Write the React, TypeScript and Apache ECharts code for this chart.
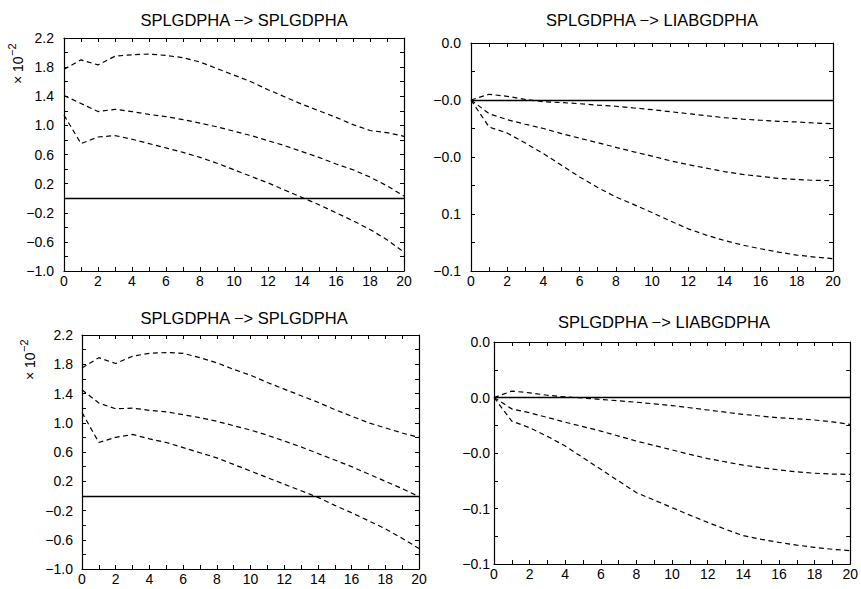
import React, { useEffect, useRef } from "react";
import * as echarts from "echarts";

// Horizon (x axis)
const steps = [0, 1, 2, 3, 4, 5, 6, 7, 8, 9, 10, 11, 12, 13, 14, 15, 16, 17, 18, 19, 20];

// Panel titles
const titles = [
  "SPLGDPHA −> SPLGDPHA",
  "SPLGDPHA −> LIABGDPHA",
  "SPLGDPHA −> SPLGDPHA",
  "SPLGDPHA −> LIABGDPHA",
];

// Top-left panel (×10^-2)
const tlUpper = [1.77, 1.9, 1.83, 1.95, 1.97, 1.98, 1.96, 1.93, 1.87, 1.78, 1.69, 1.6, 1.49, 1.39, 1.29, 1.2, 1.11, 1.01, 0.93, 0.9, 0.85];
const tlMiddle = [1.41, 1.3, 1.19, 1.22, 1.19, 1.15, 1.12, 1.08, 1.03, 0.98, 0.92, 0.86, 0.79, 0.72, 0.64, 0.56, 0.47, 0.39, 0.29, 0.17, 0.03];
const tlLower = [1.14, 0.75, 0.84, 0.86, 0.81, 0.75, 0.69, 0.63, 0.56, 0.48, 0.39, 0.3, 0.21, 0.11, 0.01, -0.09, -0.2, -0.31, -0.43, -0.57, -0.74];

// Top-right panel
const trUpper = [0, 0.002, 0.0013, 0.0002, -0.0006, -0.0009, -0.0013, -0.0018, -0.0022, -0.0028, -0.0034, -0.0041, -0.0048, -0.0055, -0.0062, -0.0067, -0.0071, -0.0075, -0.0077, -0.0081, -0.0083];
const trMiddle = [0, -0.0048, -0.0069, -0.0085, -0.01, -0.0118, -0.0134, -0.015, -0.0166, -0.0182, -0.0197, -0.0213, -0.0227, -0.0239, -0.0251, -0.0261, -0.0268, -0.0275, -0.0279, -0.0282, -0.0283];
const trLower = [0, -0.0095, -0.0116, -0.0151, -0.0188, -0.0229, -0.027, -0.0307, -0.034, -0.0367, -0.0395, -0.0424, -0.0452, -0.0474, -0.0493, -0.0509, -0.0522, -0.0534, -0.0544, -0.0551, -0.0557];

// Bottom-left panel (×10^-2)
const blUpper = [1.75, 1.89, 1.81, 1.91, 1.95, 1.96, 1.95, 1.89, 1.82, 1.73, 1.65, 1.55, 1.46, 1.37, 1.28, 1.18, 1.09, 1.0, 0.93, 0.86, 0.8];
const blMiddle = [1.45, 1.27, 1.19, 1.2, 1.17, 1.15, 1.11, 1.07, 1.02, 0.96, 0.9, 0.83, 0.75, 0.67, 0.58, 0.49, 0.4, 0.3, 0.2, 0.1, -0.01];
const blLower = [1.14, 0.73, 0.8, 0.84, 0.78, 0.73, 0.66, 0.59, 0.52, 0.43, 0.34, 0.25, 0.16, 0.07, -0.02, -0.13, -0.23, -0.34, -0.45, -0.58, -0.72];

// Bottom-right panel
const brUpper = [0, 0.0023, 0.0017, 0.0008, 0.0002, -0.0002, -0.0007, -0.0012, -0.0017, -0.0023, -0.0029, -0.0037, -0.0045, -0.0053, -0.0061, -0.0067, -0.0073, -0.0077, -0.0081, -0.0088, -0.0097];
const brMiddle = [0, -0.0041, -0.0055, -0.0072, -0.0089, -0.0105, -0.0121, -0.0139, -0.0157, -0.0173, -0.0189, -0.0205, -0.022, -0.0232, -0.0244, -0.0253, -0.0261, -0.0268, -0.0273, -0.0276, -0.0277];
const brLower = [0, -0.0085, -0.0109, -0.014, -0.0175, -0.0217, -0.0259, -0.0301, -0.0343, -0.037, -0.0397, -0.0424, -0.045, -0.0475, -0.0498, -0.0511, -0.0522, -0.0532, -0.054, -0.0547, -0.0552];

// Tick labels printed on the right-hand panels (bottom to top)
const trYLabels = ["−0.1", "0.1", "−0.0", "−0.0", "0.0"];
const brYLabels = ["−0.1", "−0.1", "−0.0", "0.0", "0.0"];

const FONT = "'Liberation Sans', Arial, Helvetica, sans-serif";

export default function App() {
  const ref = useRef<HTMLDivElement>(null);

  useEffect(() => {
    if (!ref.current) return;
    const chart = echarts.init(ref.current, null, { renderer: "svg" });

    const panels = [
      { rect: { left: 64, top: 38, width: 340, height: 233 }, min: -1.0, max: 2.2, interval: 0.4, labels: null as string[] | null, margin: 10, series: [tlUpper, tlMiddle, tlLower] },
      { rect: { left: 471, top: 43, width: 362, height: 228 }, min: -0.06, max: 0.02, interval: 0.02, labels: trYLabels, margin: 10, series: [trUpper, trMiddle, trLower] },
      { rect: { left: 82, top: 335, width: 337, height: 234 }, min: -1.0, max: 2.2, interval: 0.4, labels: null, margin: 9, series: [blUpper, blMiddle, blLower] },
      { rect: { left: 494, top: 342, width: 363, height: 222 }, min: -0.06, max: 0.02, interval: 0.02, labels: brYLabels, margin: 4, series: [brUpper, brMiddle, brLower] },
    ];

    const axisLine = { show: true, onZero: false, lineStyle: { color: "#000", width: 1.2 } };
    const tick = { show: true, inside: true, length: 4, lineStyle: { color: "#000", width: 1 } };
    const labelStyle = { color: "#000", fontSize: 14, fontFamily: FONT };

    const grid: any[] = [];
    const xAxis: any[] = [];
    const yAxis: any[] = [];
    const series: any[] = [];

    panels.forEach((p, gi) => {
      grid.push({ ...p.rect, containLabel: false });
      xAxis.push({
        type: "value", gridIndex: gi, position: "bottom", min: 0, max: 20, interval: 1,
        axisLine, axisTick: tick, splitLine: { show: false },
        axisLabel: { ...labelStyle, margin: 3, formatter: (v: number) => (Math.round(v) % 2 === 0 ? String(Math.round(v)) : "") },
      });
      xAxis.push({
        type: "value", gridIndex: gi, position: "top", min: 0, max: 20, interval: 1,
        axisLine, axisTick: tick, splitLine: { show: false }, axisLabel: { show: false },
      });
      const fmt = (v: number) => {
        if (p.labels) {
          const idx = Math.round((v - p.min) / p.interval);
          return p.labels[idx] ?? "";
        }
        return v.toFixed(1).replace("-", "−");
      };
      yAxis.push({
        type: "value", gridIndex: gi, position: "left", min: p.min, max: p.max, interval: p.interval,
        axisLine, axisTick: tick, splitLine: { show: false },
        minorTick: { show: true, splitNumber: 2, length: 4, lineStyle: { color: "#000", width: 1 } },
        minorSplitLine: { show: false },
        axisLabel: { ...labelStyle, margin: p.margin, formatter: fmt },
      });
      yAxis.push({
        type: "value", gridIndex: gi, position: "right", min: p.min, max: p.max, interval: p.interval,
        axisLine, axisTick: tick, splitLine: { show: false },
        minorTick: { show: true, splitNumber: 2, length: 4, lineStyle: { color: "#000", width: 1 } },
        minorSplitLine: { show: false },
        axisLabel: { show: false },
      });
      p.series.forEach((vals, si) => {
        series.push({
          type: "line",
          xAxisIndex: gi * 2,
          yAxisIndex: gi * 2,
          data: steps.map((s, i) => [s, vals[i]]),
          symbol: "none",
          smooth: false,
          silent: true,
          lineStyle: { color: "#000", width: 1.2, type: [5, 3.5] },
          markLine: si === 0 ? {
            silent: true,
            symbol: ["none", "none"],
            label: { show: false },
            lineStyle: { color: "#000", width: 1.3, type: "solid" },
            data: [{ yAxis: 0 }],
          } : undefined,
        });
      });
    });

    const titlePos = [[244, 20], [652, 20], [244, 318], [664, 322]];
    const graphic: any[] = titles.map((t, i) => ({
      type: "text",
      x: titlePos[i][0],
      y: titlePos[i][1],
      style: { text: t, font: `16.5px ${FONT}`, fill: "#000", textAlign: "center", textVerticalAlign: "middle" },
    }));

    const scalePos = [[18, 84], [30, 380]];
    scalePos.forEach(([x, y]) => {
      graphic.push({
        type: "group",
        x, y,
        rotation: Math.PI / 2,
        children: [
          { type: "text", x: 0, y: 0, style: { text: "× 10", font: `14px ${FONT}`, fill: "#000", textAlign: "left", textVerticalAlign: "middle" } },
          { type: "text", x: 28, y: -6, style: { text: "−2", font: `11px ${FONT}`, fill: "#000", textAlign: "left", textVerticalAlign: "middle" } },
        ],
      });
    });

    chart.setOption({
      animation: false,
      backgroundColor: "#fff",
      grid,
      xAxis,
      yAxis,
      series,
      graphic,
    });

    return () => chart.dispose();
  }, []);

  return <div ref={ref} style={{ position: "fixed", left: 0, top: 0, width: 861, height: 589 }} />;
}
